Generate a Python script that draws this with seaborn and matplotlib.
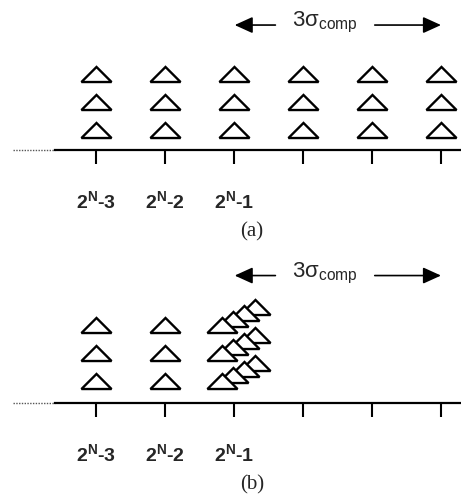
import numpy as np
import pandas as pd
import matplotlib
matplotlib.use("Agg")
import matplotlib.pyplot as plt
import matplotlib.transforms as mtransforms
from matplotlib.path import Path
from matplotlib.markers import MarkerStyle
import seaborn as sns

# code positions along the axis and their labels
tick_pos = [0, 1, 2, 3, 4, 5]
tick_labels = ["$\\mathbf{2^N}$-3", "$\\mathbf{2^N}$-2", "$\\mathbf{2^N}$-1", "", "", ""]
rows = [1, 2, 3]

# (a): each code has its own column of triangles
col_a = [0, 1, 2, 3, 4, 5]
stack_a = [0, 0, 0, 0, 0, 0]
# (b): codes 3..5 collapse onto code 2 as a staircase
col_b = [0, 1, 2, 2, 2, 2]
stack_b = [0, 0, 0, 1, 2, 3]

# staircase step (in x units and row units), left shift of the pile
step_x, step_y, pile_shift = 0.16, 0.215, -0.17

sns.set_style("white")
plt.rcParams["font.family"] = ["Liberation Sans", "DejaVu Sans"]
plt.rcParams["mathtext.fontset"] = "custom"
plt.rcParams["mathtext.rm"] = "Liberation Sans"
plt.rcParams["mathtext.bf"] = "Liberation Sans:bold"
plt.rcParams["mathtext.it"] = "Liberation Sans:italic"

tri = MarkerStyle(Path([(-1, -0.5), (1, -0.5), (0, 0.5), (-1, -0.5)],
                       [Path.MOVETO, Path.LINETO, Path.LINETO, Path.CLOSEPOLY]))


def build(cols, stacks):
    recs = []
    for c, k in zip(cols, stacks):
        for r in rows:
            shift = pile_shift if cols.count(c) > 1 else 0
            recs.append({"x": c + shift + k * step_x, "y": r + k * step_y, "k": k})
    # earlier triangles of a pile sit in front
    return pd.DataFrame(recs).sort_values("k", ascending=False, kind="stable")


W, H = 461, 498
fig = plt.figure(figsize=(W / 100, H / 100), dpi=100)
xl = (-96 / 69, (W - 96) / 69)

panels = [
    (build(col_a, stack_a), 150, 150, 20, "(a)"),
    (build(col_b, stack_b), 403, 153, 22, "(b)"),
]

for df, base_px, h_px, first_px, cap in panels:
    ax = fig.add_axes([0, (H - base_px) / H, 1, h_px / H])
    y0 = 1 - first_px / 28
    ax.set_xlim(*xl)
    ax.set_ylim(y0, y0 + h_px / 28)

    sns.scatterplot(data=df, x="x", y="y", marker=tri, s=470,
                    color="white", edgecolor="black", linewidth=1.7,
                    ax=ax, legend=False, clip_on=False, zorder=3)
    for coll in ax.collections:
        coll.set_joinstyle("miter")

    for side in ["top", "left", "right"]:
        ax.spines[side].set_visible(False)
    ax.spines["bottom"].set_linewidth(1.6)
    ax.spines["bottom"].set_color("black")
    ax.spines["bottom"].set_bounds((55 - 96) / 69, xl[1])
    ax.axhline(y0, xmin=13 / W, xmax=55 / W, ls=(0, (1, 1)), lw=1,
               color="#555555", clip_on=False)

    ax.set_yticks([])
    ax.set_xticks(tick_pos, tick_labels)
    ax.tick_params(axis="x", direction="out", length=10, width=1.5,
                   pad=19, labelsize=14, bottom=True, color="black")
    for lab in ax.get_xticklabels():
        lab.set_fontweight("bold")
    ax.set_xlabel("")
    ax.set_ylabel("")

    # 3 sigma span arrows
    arr = dict(arrowstyle="-|>,head_length=1.1,head_width=0.5",
               mutation_scale=10, color="black", lw=1.2, shrinkA=0, shrinkB=0)
    ax.annotate("", xy=(2.01, 0.833), xytext=(2.6, 0.833),
                xycoords=("data", "axes fraction"), arrowprops=arr)
    ax.annotate("", xy=(5.0, 0.833), xytext=(4.04, 0.833),
                xycoords=("data", "axes fraction"), arrowprops=arr)
    ax.text(3.32, 0.85, "3σ$_{\\mathrm{comp}}$", fontsize=16,
            ha="center", va="center",
            transform=mtransforms.blended_transform_factory(ax.transData, ax.transAxes))

    ax.text(2.26, -82 / h_px, cap, fontsize=15, family="Liberation Serif",
            ha="center", va="center",
            transform=mtransforms.blended_transform_factory(ax.transData, ax.transAxes))

fig.savefig("out.png", dpi=100)
